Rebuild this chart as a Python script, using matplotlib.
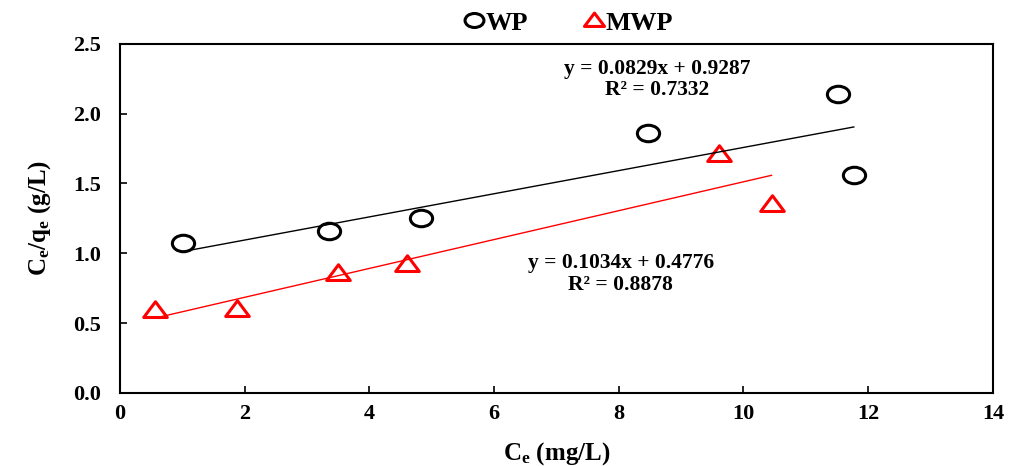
import numpy as np
import matplotlib
matplotlib.use("Agg")
import matplotlib.pyplot as plt
from matplotlib.path import Path
from matplotlib.ticker import FormatStrFormatter

plt.rcParams['font.family'] = ['Liberation Serif', 'DejaVu Serif']
plt.rcParams['font.weight'] = 'bold'
plt.rcParams['mathtext.fontset'] = 'custom'
plt.rcParams['mathtext.rm'] = 'Liberation Serif:bold'
plt.rcParams['mathtext.bf'] = 'Liberation Serif:bold'
plt.rcParams['mathtext.it'] = 'Liberation Serif:bold'

# data
wp_x = [1.01, 3.35, 4.83, 8.47, 11.51, 11.77]
wp_y = [1.07, 1.16, 1.25, 1.86, 2.14, 1.56]
mwp_x = [0.56, 1.88, 3.50, 4.60, 9.60, 10.45]
mwp_y = [0.59, 0.60, 0.86, 0.92, 1.71, 1.35]
wp_fit = (0.0829, 0.9287, 0.7332)
mwp_fit = (0.1034, 0.4776, 0.8878)

# the reference is stretched sideways, so stretch the markers too
circ = Path.unit_circle()
circ = Path(circ.vertices * [1.35, 1.0], circ.codes)
tri = Path([(-1.35, -0.8), (1.35, -0.8), (0, 1.0), (-1.35, -0.8)],
           [Path.MOVETO, Path.LINETO, Path.LINETO, Path.CLOSEPOLY])

fig = plt.figure(figsize=[10.09, 4.66], dpi=100)
ax = fig.add_axes([0.119, 0.157, 0.865, 0.749])

ax.plot(wp_x, wp_y, linestyle='none', marker=circ, markersize=16,
        markerfacecolor='none', markeredgecolor='black', markeredgewidth=2.2, label='WP')
ax.plot(mwp_x, mwp_y, linestyle='none', marker=tri, markersize=17,
        markerfacecolor='none', markeredgecolor='red', markeredgewidth=2.2, label='MWP')

xs = np.array([min(wp_x), max(wp_x)])
ax.plot(xs, wp_fit[0] * xs + wp_fit[1], color='black', linewidth=1)
xs = np.array([min(mwp_x), max(mwp_x)])
ax.plot(xs, mwp_fit[0] * xs + mwp_fit[1], color='red', linewidth=1)

ax.text(8.62, 2.245, 'y = {}x + {}\nR² = {}'.format(*wp_fit), ha='center', va='center',
        fontsize=15.5, fontweight='bold', linespacing=1.1)
ax.text(8.03, 0.85, 'y = {}x + {}\nR² = {}'.format(*mwp_fit), ha='center', va='center',
        fontsize=15.5, fontweight='bold', linespacing=1.1)

ax.set_xlim(0, 14)
ax.set_ylim(0, 2.5)
ax.set_xticks(np.arange(0, 15, 2))
ax.set_yticks(np.arange(0, 2.51, 0.5))
ax.yaxis.set_major_formatter(FormatStrFormatter('%.1f'))
ax.tick_params(direction='in', length=5, width=1.2, labelsize=16, pad=8)
ax.tick_params(axis='y', pad=14)
for s in ax.spines.values():
    s.set_linewidth(1.5)

ax.set_xlabel(r'$\mathrm{C_e}$ (mg/L)', fontsize=18, fontweight='bold', labelpad=12)
ax.set_ylabel(r'$\mathrm{C_e/q_e}$ (g/L)', fontsize=18, fontweight='bold', labelpad=14)

ax.legend(loc='center', bbox_to_anchor=(0.515, 1.06), ncol=2, frameon=False,
          fontsize=19, handlelength=0.6, handletextpad=0.15, columnspacing=2.2,
          borderaxespad=0.0, markerscale=0.85)

plt.savefig('out.png', dpi=100)
